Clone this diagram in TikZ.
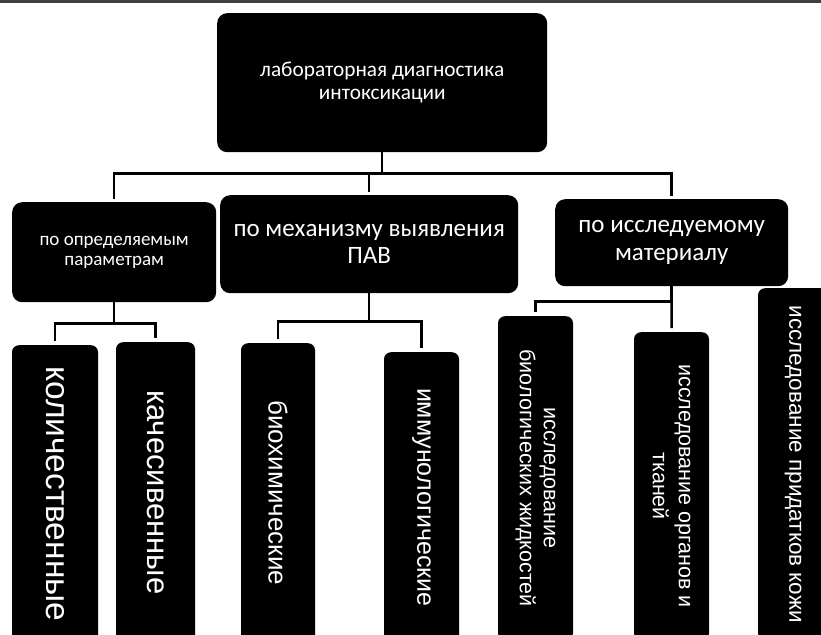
\documentclass[tikz,border=0pt]{standalone}
\usepackage{fontspec}
\setmainfont{Carlito}
\newfontfamily\leaffont{Liberation Sans}
\usetikzlibrary{positioning}

\begin{document}
\begin{tikzpicture}[
        x=1pt, y=-1pt,
        mainblock/.style={rectangle, fill=black, text=white, align=center, rounded corners=10pt, anchor=north west, inner sep=0pt},
        leafblock/.style={rectangle, fill=black, text=white, align=center, rounded corners=7pt, rotate=-90, anchor=west, inner sep=0pt, font=\leaffont},
        line/.style={draw, line width=2.5pt, shorten >=3pt}
    ]
    \useasboundingbox (0,0) rectangle (821,634);
    \clip (0,0) rectangle (821,634);
    \fill[white] (0,0) rectangle (821,634);
    \fill[black!75] (0,0) rectangle (821,3);

    % Root
    \node [mainblock, minimum width=330, minimum height=139, font=\fontsize{21.3}{23}\selectfont] (diag) at (217,13) {лабораторная диагностика\\интоксикации};

    % Second level
    \node [mainblock, minimum width=204, minimum height=100, font=\fontsize{19}{20}\selectfont] (param) at (12,202) {по определяемым\\параметрам};
    \node [mainblock, minimum width=298, minimum height=98, font=\fontsize{25}{27}\selectfont] (mech) at (220,195) {по механизму выявления\\ПАВ};
    \node [mainblock, minimum width=233, minimum height=87, font=\fontsize{25}{28}\selectfont] (mater) at (555,199) {по исследуемому\\материалу};

    % Leaves (vertical text)
    \node [leafblock, minimum width=297, minimum height=86, font=\leaffont\fontsize{33.5}{36}\selectfont] (kol) at (55,345) {количественные};
    \node [leafblock, minimum width=300, minimum height=79, font=\leaffont\fontsize{31}{35}\selectfont] (kach) at (155.5,342) {качесивенные};
    \node [leafblock, minimum width=299, minimum height=74, font=\leaffont\fontsize{26}{30}\selectfont] (bioch) at (278,343) {биохимические};
    \node [leafblock, minimum width=290, minimum height=75, font=\leaffont\fontsize{25}{29}\selectfont] (immun) at (421.5,352) {иммунологические};
    \node [leafblock, minimum width=324, minimum height=75, font=\leaffont\fontsize{21.5}{24}\selectfont] (liquid) at (535.5,316) {исследование\\биологических жидкостей};
    \node [leafblock, minimum width=308, minimum height=75, font=\leaffont\fontsize{21.5}{26}\selectfont] (organ) at (671.5,332) {исследование органов и\\тканей};
    \node [leafblock, minimum width=352, minimum height=70, font=\leaffont\fontsize{22.5}{26}\selectfont] (skin) at (793,288) {исследование придатков кожи};

    % Connections - root to categories
    \path [line] (diag.south) -- ++(0,21) -| (param.north);
    \path [line] (diag.south) -- ++(0,21) -| (mech.north);
    \path [line] (diag.south) -- ++(0,21) -| (mater.north);

    % Connections - categories to leaves
    \path [line, shorten >=4pt] (param.south) -- ++(0,21) -| (kol.west);
    \path [line, shorten >=4pt] (param.south) -- ++(0,21) -| (kach.west);
    \path [line, shorten >=4pt] (mech.south) -- ++(0,28) -| (bioch.west);
    \path [line, shorten >=4pt] (mech.south) -- ++(0,28) -| (immun.west);
    \path [line, shorten >=4pt] (mater.south) -- ++(0,15) -| (liquid.west);
    \path [line, shorten >=4pt] (mater.south) -- (organ.west);

\end{tikzpicture}
\end{document}
